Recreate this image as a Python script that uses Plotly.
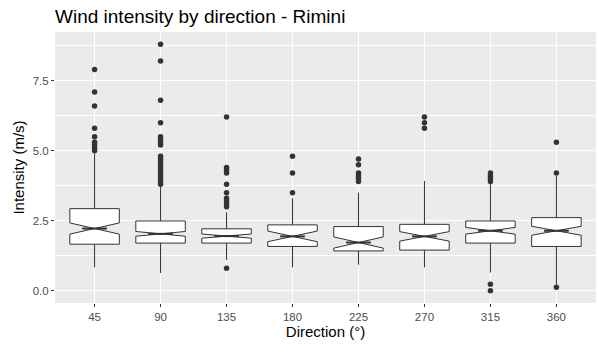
import plotly.graph_objects as go

# Wind direction classes (degrees)
directions = ["45", "90", "135", "180", "225", "270", "315", "360"]

# Box summary statistics per direction (m/s)
q1 = [1.66, 1.70, 1.70, 1.58, 1.42, 1.45, 1.70, 1.58]
median = [2.22, 2.03, 1.95, 1.94, 1.72, 1.94, 2.14, 2.14]
q3 = [2.93, 2.49, 2.21, 2.35, 2.29, 2.37, 2.49, 2.61]
whisker_low = [0.83, 0.63, 1.10, 0.83, 0.93, 0.83, 0.65, 0.22]
whisker_high = [4.90, 3.72, 2.80, 3.30, 3.50, 3.92, 3.86, 4.10]
notch_half = [0.20, 0.085, 0.075, 0.19, 0.20, 0.17, 0.12, 0.16]

# Outlying observations per direction (m/s)
outliers = [
    [5.0, 5.1, 5.2, 5.3, 5.5, 5.8, 6.6, 7.1, 7.9],
    [3.8, 3.9, 4.0, 4.1, 4.2, 4.3, 4.4, 4.5, 4.6, 4.7, 4.8,
     5.2, 5.3, 5.4, 5.5, 6.0, 6.8, 8.2, 8.8],
    [0.8, 3.0, 3.1, 3.2, 3.3, 3.5, 3.8, 4.2, 4.3, 4.4, 6.2],
    [3.5, 4.2, 4.8],
    [3.9, 4.0, 4.1, 4.2, 4.5, 4.7],
    [5.8, 6.0, 6.2],
    [0.0, 0.23, 3.9, 4.0, 4.1, 4.2],
    [0.12, 4.2, 5.3],
]

positions = list(range(1, len(directions) + 1))
BOX_WIDTH = 0.75
NOTCH_WIDTH = 0.5
LINE = "#333333"

fig = go.Figure()

fig.add_trace(go.Box(
    x=positions,
    q1=q1, median=median, q3=q3,
    lowerfence=whisker_low, upperfence=whisker_high,
    notchspan=notch_half,
    notched=True, notchwidth=NOTCH_WIDTH,
    width=BOX_WIDTH, whiskerwidth=0,
    fillcolor="white",
    line=dict(color=LINE, width=1),
    boxpoints=False,
    hoverinfo="skip",
    showlegend=False,
))

# Thicker median segments across the notch waist
half_waist = BOX_WIDTH * (1 - NOTCH_WIDTH) / 2
mx, my = [], []
for p, m in zip(positions, median):
    mx += [p - half_waist, p + half_waist, None]
    my += [m, m, None]
fig.add_trace(go.Scatter(
    x=mx, y=my, mode="lines",
    line=dict(color=LINE, width=2),
    showlegend=False, hoverinfo="skip",
))

# Outlier points
ox, oy = [], []
for p, vals in zip(positions, outliers):
    ox += [p] * len(vals)
    oy += vals
fig.add_trace(go.Scatter(
    x=ox, y=oy, mode="markers",
    marker=dict(color=LINE, size=5.5, line=dict(width=0)),
    showlegend=False, hoverinfo="skip",
))

font_family = "Liberation Sans, Arial, sans-serif"

fig.update_layout(
    width=597, height=346,
    margin=dict(l=55, r=1, t=32, b=43),
    paper_bgcolor="white",
    plot_bgcolor="#EBEBEB",
    font=dict(family=font_family, size=11.5, color="#4D4D4D"),
    title=dict(
        text="Wind intensity by direction - Rimini",
        font=dict(family=font_family, size=19, color="black"),
        xref="container", yref="container",
        x=55 / 597, xanchor="left",
        y=1 - 16 / 346, yanchor="middle",
    ),
    xaxis=dict(
        range=[0.4, len(directions) + 0.6],
        tickvals=positions, ticktext=directions,
        showgrid=True, gridcolor="white", gridwidth=1.1,
        zeroline=False,
        ticks="outside", ticklen=3, tickcolor="#333333", tickwidth=1,
        tickfont=dict(size=11.5, color="#4D4D4D"),
        title=dict(text="Direction (°)", standoff=3,
                   font=dict(size=15, color="black")),
    ),
    yaxis=dict(
        range=[-0.44, 9.24],
        tickvals=[0, 2.5, 5.0, 7.5], tickformat=".1f",
        showgrid=True, gridcolor="white", gridwidth=1.1,
        minor=dict(tickvals=[1.25, 3.75, 6.25, 8.75], showgrid=True,
                   gridcolor="white", gridwidth=0.5, ticks=""),
        zeroline=False,
        ticks="outside", ticklen=3, tickcolor="#333333", tickwidth=1,
        tickfont=dict(size=11.5, color="#4D4D4D"),
        title=dict(text="Intensity (m/s)", standoff=4,
                   font=dict(size=15, color="black")),
    ),
)

fig.write_html("out.html")
